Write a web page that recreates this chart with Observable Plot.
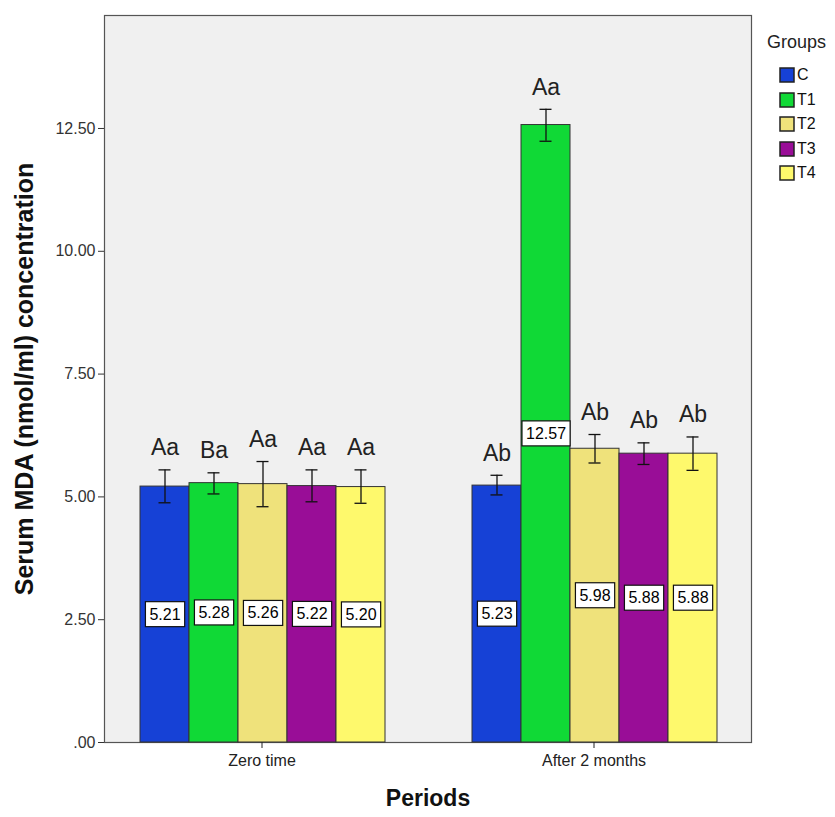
<!DOCTYPE html>
<html><head><meta charset="utf-8">
<script src="https://cdn.jsdelivr.net/npm/d3@7"></script>
<script src="https://cdn.jsdelivr.net/npm/@observablehq/plot@0.6"></script>
<style>
body{margin:0;background:#fff;font-family:"Liberation Sans",Arial,sans-serif;}
#wrap{position:relative;width:835px;height:817px;}
#groupsTitle{position:absolute;left:767px;top:32px;font-size:18px;color:#222;}
#legend{position:absolute;left:780px;top:63px;color:#111;}
#legend svg rect{stroke:#222;stroke-width:1.5px;}
#legend div{font-size:16px !important;font-family:"Liberation Sans",Arial,sans-serif !important;color:#111;}
</style></head><body><div id="wrap"><div id="groupsTitle">Groups</div><div id="legend"></div></div>
<script>
const periods = ["Zero time", "After 2 months"];
const groups = ["C", "T1", "T2", "T3", "T4"];
const colors = ["#1641d6", "#10d936", "#efe27b", "#990d97", "#fef96c"];
const meansZero = [5.21, 5.28, 5.26, 5.22, 5.20];
const meansAfter = [5.23, 12.57, 5.98, 5.88, 5.88];
const lowZero = [4.88, 5.06, 4.80, 4.90, 4.87];
const highZero = [5.55, 5.49, 5.72, 5.55, 5.55];
const lowAfter = [5.04, 12.24, 5.69, 5.66, 5.54];
const highAfter = [5.44, 12.89, 6.27, 6.10, 6.22];
const lettersZero = ["Aa", "Ba", "Aa", "Aa", "Aa"];
const lettersAfter = ["Ab", "Aa", "Ab", "Ab", "Ab"];
const yTicks = [0, 2.5, 5, 7.5, 10, 12.5];
const yTickLabels = [".00", "2.50", "5.00", "7.50", "10.00", "12.50"];
const yTitle = "Serum MDA (nmol/ml) concentration";
const xTitle = "Periods";

const rows = [];
groups.forEach((g, i) => {
  rows.push({period: periods[0], group: g, mean: meansZero[i], low: lowZero[i], high: highZero[i], letter: lettersZero[i]});
});
groups.forEach((g, i) => {
  rows.push({period: periods[1], group: g, mean: meansAfter[i], low: lowAfter[i], high: highAfter[i], letter: lettersAfter[i]});
});
const tickLabel = new Map(yTicks.map((t, i) => [t, yTickLabels[i]]));

const font = "Liberation Sans, Arial, sans-serif";
const LABEL_FILL = "#010101";
const chart = Plot.plot({
  width: 835, height: 817,
  marginLeft: 103, marginRight: 83, marginTop: 15, marginBottom: 75,
  style: {fontFamily: font, background: "#fff", overflow: "visible", color: "#222"},
  fx: {domain: periods, paddingInner: 0.051, paddingOuter: 0, label: null},
  x: {domain: groups, paddingInner: 0, paddingOuter: 0.698, align: 0.52, axis: null},
  y: {domain: [0, 14.8], axis: null},
  color: {domain: groups, range: colors},
  marks: [
    Plot.frame({facet: "super", fill: "#f0f0f0", stroke: "#555", strokeWidth: 1.2}),
    Plot.barY(rows, {fx: "period", x: "group", y: "mean", fill: "group", stroke: "#333", strokeWidth: 1}),
    Plot.ruleX(rows, {fx: "period", x: "group", y1: "low", y2: "high", stroke: "#111", strokeWidth: 1.3}),
    Plot.tickY(rows, {fx: "period", x: "group", y: "low", stroke: "#111", strokeWidth: 1.3, insetLeft: 18.5, insetRight: 18.5}),
    Plot.tickY(rows, {fx: "period", x: "group", y: "high", stroke: "#111", strokeWidth: 1.3, insetLeft: 18.5, insetRight: 18.5}),
    Plot.text(rows, {fx: "period", x: "group", y: "high", text: "letter", dy: -22, fontSize: 23, fill: "#222"}),
    Plot.text(rows, {fx: "period", x: "group", y: d => d.mean / 2, text: d => d.mean.toFixed(2), fontSize: 16, fill: LABEL_FILL}),
    Plot.axisY({ticks: yTicks, tickFormat: d => tickLabel.get(d), tickSize: 6, tickPadding: 3, fontSize: 16, label: null, stroke: "#333", color: "#333"}),
    Plot.axisFx({anchor: "bottom", tickSize: 6, tickPadding: 6, fontSize: 16, label: null, color: "#222"}),
    Plot.text([yTitle], {facet: "super", frameAnchor: "left", textAnchor: "middle", rotate: -90, dx: -80, fontSize: 25, fontWeight: "bold", fill: "#111"}),
    Plot.text([xTitle], {facet: "super", frameAnchor: "bottom", textAnchor: "middle", dy: 63, fontSize: 23, fontWeight: "bold", fill: "#111"})
  ]
});
document.getElementById("wrap").prepend(chart);

// white boxes behind value labels
chart.querySelectorAll(`g[fill="${LABEL_FILL}"] text`).forEach(t => {
  const b = t.getBBox();
  const r = document.createElementNS("http://www.w3.org/2000/svg", "rect");
  r.setAttribute("x", b.x - 4);
  r.setAttribute("y", b.y - 4);
  r.setAttribute("width", b.width + 8);
  r.setAttribute("height", b.height + 8);
  r.setAttribute("fill", "#fff");
  r.setAttribute("stroke", "#111");
  r.setAttribute("stroke-width", "1.2");
  const tr = t.getAttribute("transform");
  if (tr) r.setAttribute("transform", tr);
  t.parentNode.insertBefore(r, t);
});

const leg = Plot.legend({color: {domain: groups, range: colors}, legend: "swatches", columns: 1, swatchSize: 14, style: {fontFamily: font, fontSize: "16px", margin: "0"}});
document.getElementById("legend").appendChild(leg);
Array.from(leg.querySelectorAll("div")).forEach(d => {
  if (d.querySelector(":scope > svg")) {
    d.style.height = "24.5px";
    d.style.display = "flex";
    d.style.alignItems = "center";
    d.style.padding = "0";
    const s = d.querySelector(":scope > svg");
    s.style.marginRight = "3px";
  }
});
</script></body></html>
